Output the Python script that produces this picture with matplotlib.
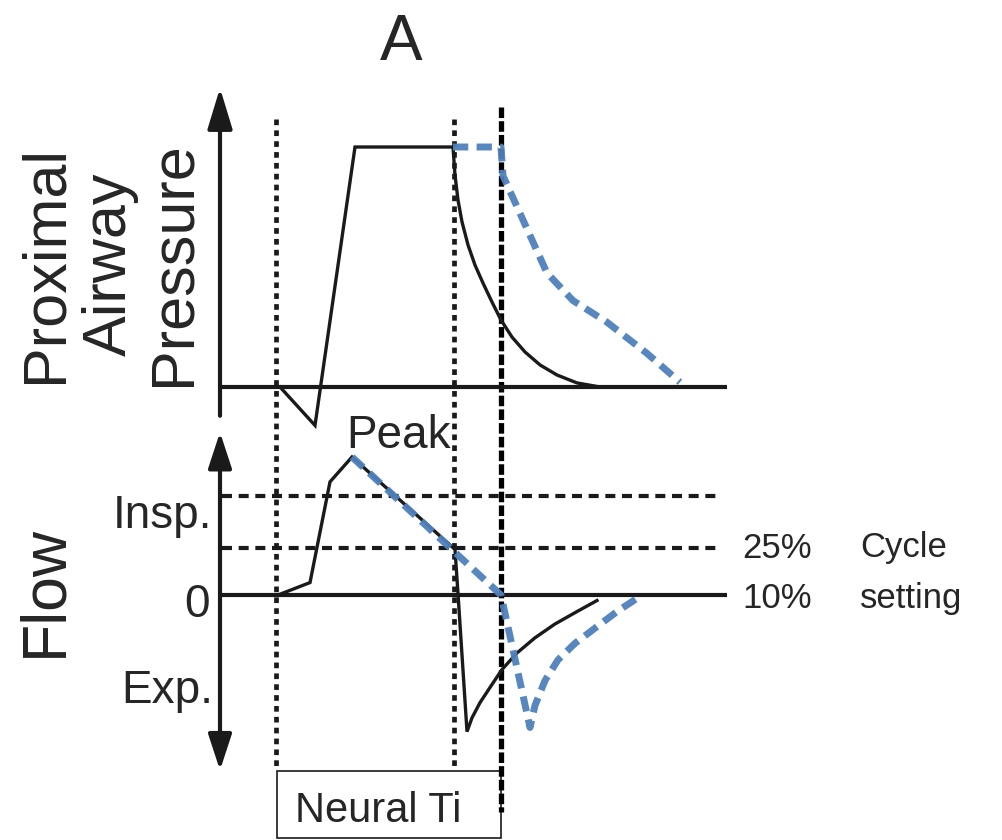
import matplotlib
matplotlib.use("Agg")
import matplotlib.pyplot as plt
from matplotlib.patches import Rectangle

plt.rcParams['font.family'] = ['Liberation Sans', 'DejaVu Sans']

W, H, DPI = 1002, 840, 100
INK = '#1a1a1a'
TXT = '#262626'
BLUE = '#4F81BD'

# ---- event times (arbitrary time units, y-axis at t = 0) ----
t_insp_start = 0.56
t_neural_end = 2.34
t_cycle_off = 2.81

# ---- proximal airway pressure, normalised to the plateau ----
p_time = [0.60, 0.95, 1.35, 2.33, 2.35, 2.38, 2.42, 2.48, 2.55, 2.63, 2.72, 2.81,
          2.92, 3.05, 3.20, 3.37, 3.57, 3.80]
p_val = [0.00, -0.16, 1.00, 1.00, 0.883, 0.779, 0.688, 0.592, 0.508, 0.433, 0.354, 0.279,
         0.208, 0.146, 0.092, 0.050, 0.017, 0.00]
p_late_time = [2.33, 2.81, 2.83, 3.27, 3.53, 3.87, 4.27, 4.60]
p_late_val = [1.00, 1.00, 0.88, 0.475, 0.36, 0.27, 0.14, 0.02]

# ---- flow, normalised to peak inspiratory flow ----
f_time = [0.58, 0.90, 1.10, 1.32, 2.35, 2.38, 2.47, 2.52, 2.60, 2.70, 2.82, 2.97,
          3.15, 3.35, 3.57, 3.77]
f_val = [0.00, 0.09, 0.82, 1.00, 0.33, 0.01, -0.99, -0.89, -0.78, -0.67, -0.54, -0.42,
         -0.31, -0.21, -0.12, -0.04]
f_late_time = [1.32, 2.81, 3.10, 3.15, 3.25, 3.38, 3.55, 3.75, 3.97, 4.20]
f_late_val = [1.00, 0.00, -0.96, -0.80, -0.62, -0.47, -0.35, -0.24, -0.12, -0.01]

insp_level = 0.72
cycle_levels = [0.34, 0.00]
cycle_labels = ['25%', '10%']
t_end = 5.07

fig = plt.figure(figsize=(W / DPI, H / DPI), dpi=DPI)
fig.patch.set_facecolor('white')


def fx(px):
    return px / W


def fy(py):
    return 1 - py / H


XLIM = (-0.2, 5.2)

# guide layer: vertical event markers and the Neural Ti box (rows in pixels)
guide = fig.add_axes([fx(200), 0, fx(540), 1])
guide.set_xlim(*XLIM)
guide.set_ylim(H, 0)
guide.axis('off')
guide.patch.set_visible(False)

# pressure panel
axp = fig.add_axes([fx(200), fy(430), fx(540), 350 / H])
axp.set_xlim(*XLIM)
axp.set_ylim((387 - 430) / 240, (387 - 80) / 240)
axp.axis('off')
axp.patch.set_visible(False)

# flow panel
axf = fig.add_axes([fx(200), fy(780), fx(540), 355 / H])
axf.set_xlim(*XLIM)
axf.set_ylim((595 - 780) / 138, (595 - 425) / 138)
axf.axis('off')
axf.patch.set_visible(False)

# vertical markers
dot_style = dict(color=INK, lw=3.4, dashes=(1.2, 1.1), dash_capstyle='butt')
guide.plot([t_insp_start, t_insp_start], [119, 768], **dot_style)
guide.plot([t_neural_end, t_neural_end], [119, 768], **dot_style)
guide.plot([t_cycle_off, t_cycle_off], [107, 812], color='black', lw=3.8,
           dashes=(2.0, 0.6), dash_capstyle='butt')
guide.add_patch(Rectangle((t_insp_start + 0.01, 771), t_cycle_off - t_insp_start - 0.01, 67,
                          fill=False, ec=INK, lw=1.2))
guide.text(1.58, 822, 'Neural Ti', fontsize=30, color=TXT, ha='center', va='baseline')

# pressure axes
axp.annotate('', xy=(0, 1.246), xytext=(0, -0.12),
             arrowprops=dict(arrowstyle='-|>,head_length=1.25,head_width=0.38',
                             mutation_scale=20, lw=3, color=INK, shrinkA=0, shrinkB=0))
axp.plot([0, t_end], [0, 0], color=INK, lw=3, solid_capstyle='butt')
axp.plot(p_time, p_val, color=INK, lw=2.4, solid_joinstyle='miter')
axp.plot(p_late_time, p_late_val, color=BLUE, lw=5, dashes=(2.2, 1.2), alpha=0.95)

# flow axes
axf.annotate('', xy=(0, 1.18), xytext=(0, -1.27),
             arrowprops=dict(arrowstyle='<|-|>,head_length=1.1,head_width=0.36',
                             mutation_scale=20, lw=3, color=INK, shrinkA=0, shrinkB=0))
axf.plot([0, t_end], [0, 0], color=INK, lw=3, solid_capstyle='butt')
for lvl in [insp_level, cycle_levels[0]]:
    axf.plot([0.02, 4.98], [lvl, lvl], color=INK, lw=3, dashes=(2.4, 1.6),
             dash_capstyle='butt')
axf.plot(f_time, f_val, color=INK, lw=2.4, solid_joinstyle='miter')
axf.plot(f_late_time, f_late_val, color=BLUE, lw=5, dashes=(2.2, 1.2), alpha=0.95)

# texts
fig.text(fx(401), fy(60), 'A', fontsize=46, color=TXT, ha='center', va='baseline')
fig.text(fx(110), fy(264), 'Proximal\nAirway\nPressure', fontsize=44, color=TXT,
         rotation=90, ha='center', va='center', multialignment='center',
         linespacing=1.16, rotation_mode='anchor')
fig.text(fx(45), fy(591), 'Flow', fontsize=45, color=TXT, rotation=90,
         ha='center', va='center', rotation_mode='anchor')
fig.text(fx(399), fy(448), 'Peak', fontsize=33, color=TXT, ha='center', va='baseline')
fig.text(fx(212), fy(528), 'Insp.', fontsize=33, color=TXT, ha='right', va='baseline')
fig.text(fx(210), fy(617), '0', fontsize=33, color=TXT, ha='right', va='baseline')
fig.text(fx(213), fy(703), 'Exp.', fontsize=33, color=TXT, ha='right', va='baseline')
for lbl, base in zip(cycle_labels, [558, 608]):
    fig.text(fx(742), fy(base), lbl, fontsize=25, color=TXT, ha='left', va='baseline')
fig.text(fx(860), fy(557), 'Cycle', fontsize=25, color=TXT, ha='left', va='baseline')
fig.text(fx(860), fy(608), 'setting', fontsize=25, color=TXT, ha='left', va='baseline')

fig.savefig('out.png', dpi=DPI, facecolor='white')
